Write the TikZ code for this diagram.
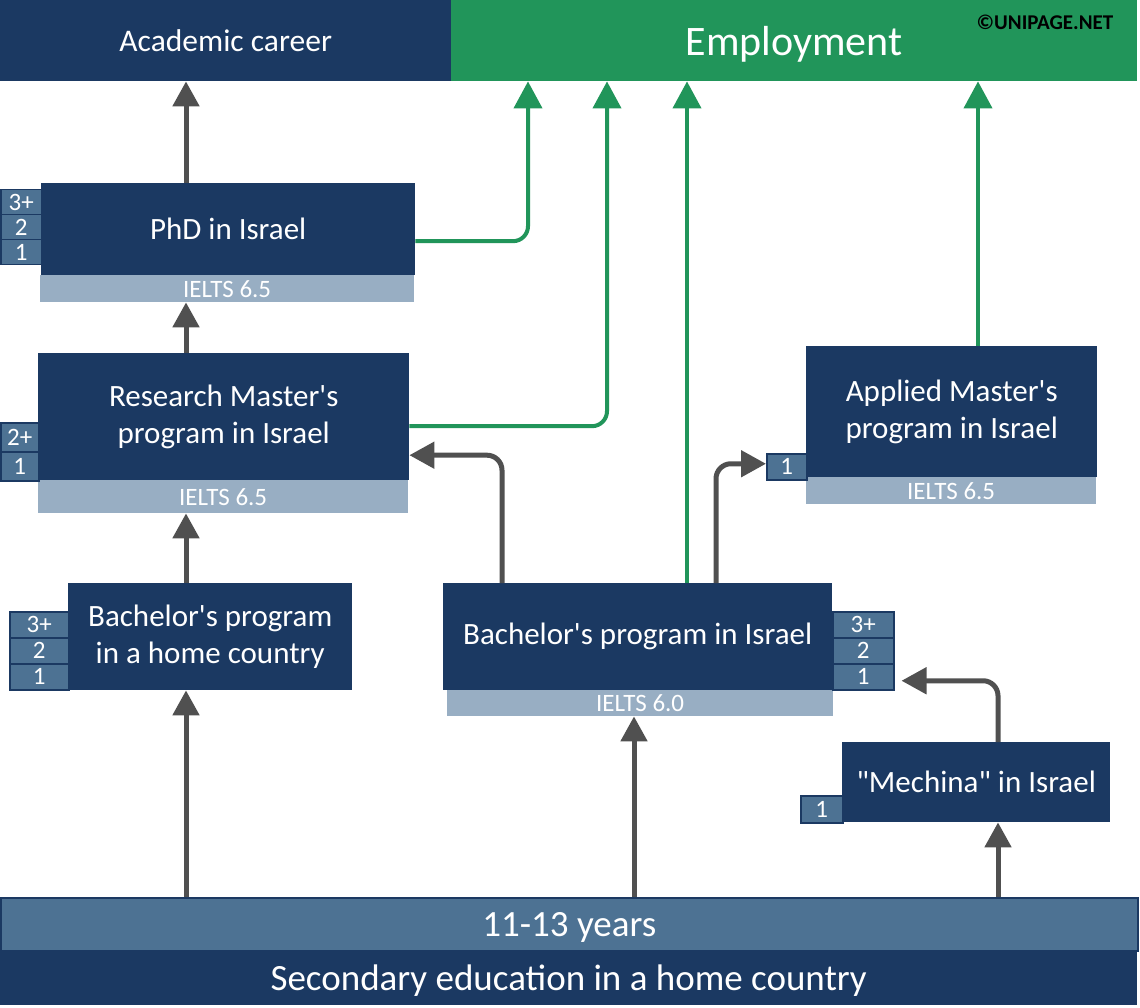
\documentclass[tikz,border=0pt]{standalone}
\usepackage{fontspec}
\setmainfont{Carlito}[Ligatures=TeXOff]
\usetikzlibrary{arrows.meta}

\definecolor{navy}{HTML}{1B3962}
\definecolor{empgreen}{HTML}{21955A}
\definecolor{tabblue}{HTML}{4D7293}
\definecolor{barblue}{HTML}{98AEC3}
\definecolor{arrgray}{HTML}{505050}

\tikzset{
  prog/.style={fill=navy, text=white, inner sep=0pt, align=center, anchor=north west, font=\fontsize{31}{37}\selectfont},
  ielts/.style={fill=barblue, text=white, inner sep=0pt, anchor=north west, font=\fontsize{25}{27}\selectfont},
  yr/.style={fill=tabblue, draw=navy, line width=1.5pt, text=white, inner sep=0pt, anchor=north west, font=\fontsize{25}{27}\selectfont},
  arr/.style={draw=arrgray, line width=5pt, -{Triangle[width=26pt,length=25pt]}, rounded corners=15pt},
  grn/.style={draw=empgreen, line width=4pt, -{Triangle[width=28pt,length=27pt]}, rounded corners=15pt},
}

\begin{document}
\begin{tikzpicture}[x=1pt, y=-1pt]
  \useasboundingbox[fill=white] (0,0) rectangle (1140,1008);

  % top: goals
  \node[prog, minimum width=451pt, minimum height=81pt, text depth=0pt, font=\fontsize{31.5}{34}\selectfont] (ac) at (0,0) {Academic career};
  \node[prog, fill=empgreen, minimum width=686pt, minimum height=81pt, text depth=0pt, font=\fontsize{42}{44}\selectfont] (emp) at (451,0) {Employment};
  \node[text=black, inner sep=0pt, font=\bfseries\fontsize{21}{23}\selectfont] (copy) at (1045,22) {©UNIPAGE.NET};

  % PhD
  \node[prog, minimum width=374pt, minimum height=92pt] (phd) at (41,183) {PhD in Israel};
  \node[ielts, minimum width=374pt, minimum height=27pt] (phdb) at (40,275) {IELTS 6.5};
  \node[yr, minimum width=41pt, minimum height=25pt] (phd3) at (0,189) {3+};
  \node[yr, minimum width=41pt, minimum height=25pt] (phd2) at (0,214) {2};
  \node[yr, minimum width=41pt, minimum height=25pt] (phd1) at (0,239) {1};

  % research master
  \node[prog, minimum width=371pt, minimum height=127pt] (rms) at (38,353) {Research Master's\\program in Israel};
  \node[ielts, minimum width=370pt, minimum height=33pt] (rmsb) at (38,480) {IELTS 6.5};
  \node[yr, minimum width=38pt, minimum height=29pt] (rms2) at (0,422) {2+};
  \node[yr, minimum width=38pt, minimum height=29pt] (rms1) at (0,451) {1};

  % applied master
  \node[prog, minimum width=291pt, minimum height=131pt] (am) at (806,346) {Applied Master's\\program in Israel};
  \node[ielts, minimum width=290pt, minimum height=27pt] (amb) at (806,477) {IELTS 6.5};
  \node[yr, minimum width=40pt, minimum height=26pt] (am1) at (766,453) {1};

  % bachelor home country
  \node[prog, minimum width=284pt, minimum height=107pt] (bhc) at (68,583) {Bachelor's program\\in a home country};
  \node[yr, minimum width=59pt, minimum height=26pt] (bhc3) at (9,611) {3+};
  \node[yr, minimum width=59pt, minimum height=26pt] (bhc2) at (9,637) {2};
  \node[yr, minimum width=59pt, minimum height=26pt] (bhc1) at (9,663) {1};

  % bachelor israel
  \node[prog, minimum width=389pt, minimum height=107pt] (bis) at (443,583) {Bachelor's program in Israel};
  \node[ielts, minimum width=386pt, minimum height=26pt] (bisb) at (447,690) {IELTS 6.0};
  \node[yr, minimum width=61pt, minimum height=26pt] (bis3) at (832,611) {3+};
  \node[yr, minimum width=61pt, minimum height=26pt] (bis2) at (832,637) {2};
  \node[yr, minimum width=61pt, minimum height=26pt] (bis1) at (832,663) {1};

  % mechina
  \node[prog, minimum width=268pt, minimum height=80pt] (mech) at (842,742) {"Mechina" in Israel};
  \node[yr, minimum width=42pt, minimum height=27pt] (mech1) at (800,795) {1};

  % secondary education
  \node[yr, fill=tabblue, minimum width=1137pt, minimum height=53pt, text depth=0pt, font=\fontsize{37}{39}\selectfont] (yrs) at (0,897) {11-13 years};
  \node[prog, minimum width=1137pt, minimum height=55pt, text depth=0pt, font=\fontsize{37}{39}\selectfont] (sec) at (0,950) {Secondary education in a home country};

  % columns
  \coordinate (c0) at (186,0);
  \coordinate (cB) at (634,0);
  \coordinate (cM) at (998,0);
  \coordinate (cR) at (502,0);
  \coordinate (cA) at (716,0);
  \coordinate (g1) at (528,0);
  \coordinate (g2) at (607,0);
  \coordinate (g3) at (687,0);
  \coordinate (g4) at (978,0);

  % gray arrows
  \draw[arr] (yrs.north -| c0) -- (bhc.south -| c0);
  \draw[arr] (yrs.north -| cB) -- (bisb.south -| cB);
  \draw[arr] (yrs.north -| cM) -- (mech.south -| cM);
  \draw[arr] (bhc.north -| c0) -- (rmsb.south -| c0);
  \draw[arr] (rms.north -| c0) -- (phdb.south -| c0);
  \draw[arr] (phd.north -| c0) -- (ac.south -| c0);
  \draw[arr] (bis.north -| cR) |- ([yshift=-38.5pt]rms.east);
  \draw[arr] (bis.north -| cA) |- ([yshift=3pt]am1.west);
  \draw[arr] (mech.north -| cM) |- ([xshift=7pt, yshift=-4pt]bis1.east);

  % green arrows
  \draw[grn] ([yshift=-12pt]phd.east) -| (emp.south -| g1);
  \draw[grn] ([yshift=-9.5pt]rms.east) -| (emp.south -| g2);
  \draw[grn] (bis.north -| g3) -- (emp.south -| g3);
  \draw[grn] (am.north -| g4) -- (emp.south -| g4);
\end{tikzpicture}
\end{document}
